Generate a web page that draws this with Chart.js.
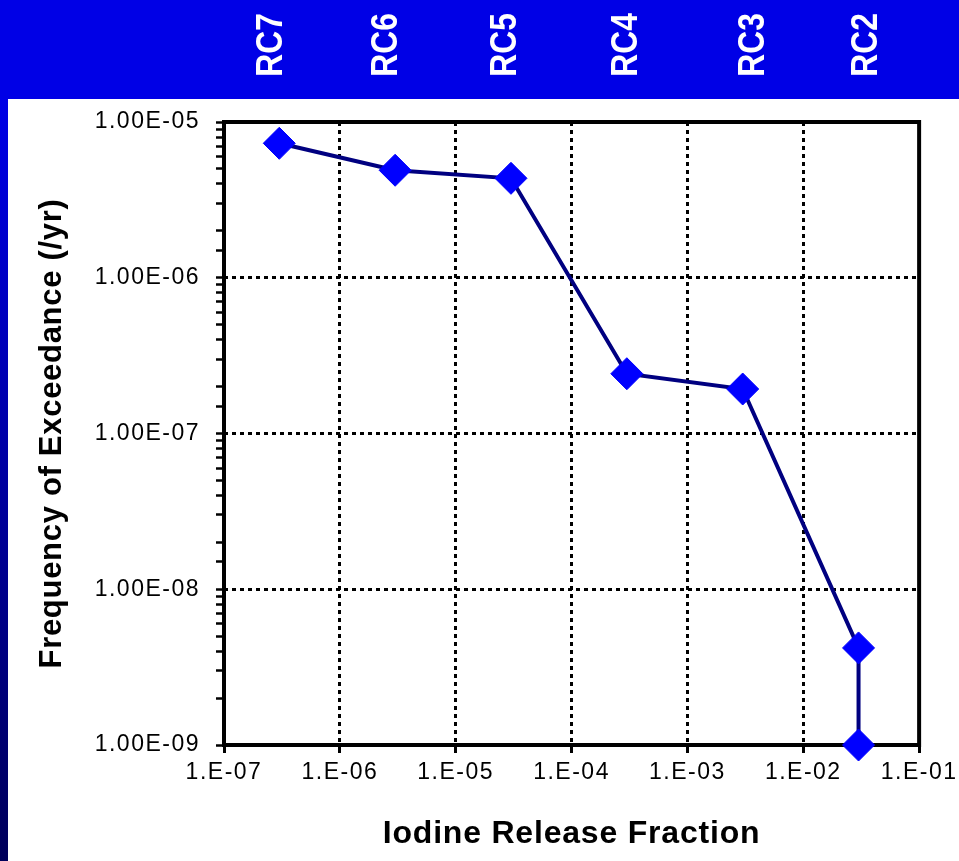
<!DOCTYPE html>
<html>
<head>
<meta charset="utf-8">
<script src="https://cdn.jsdelivr.net/npm/chart.js@4"></script>
<style>
  html, body { margin: 0; padding: 0; background: #fff; overflow: hidden; }
  canvas { display: block; }
</style>
</head>
<body>
<canvas id="mainChart" width="959" height="861"></canvas>
<script>
// data
const rcLabels = ['RC7', 'RC6', 'RC5', 'RC4', 'RC3', 'RC2'];
const releaseFraction = [3e-7, 3e-6, 3e-5, 3e-4, 3e-3, 3e-2, 3e-2];
const exceedanceFreq = [7.3e-6, 4.9e-6, 4.35e-6, 2.42e-7, 1.93e-7, 4.2e-9, 1e-9];
const xTitle = 'Iodine Release Fraction';
const yTitle = 'Frequency of Exceedance (/yr)';

// small nudges so the header labels sit where the slide has them (px)
const headerNudge = [-9, -10, -7, -2, 9, 6];

const FONT = 'Arial, "Liberation Sans", sans-serif';
const isDecade = v => Math.abs(Math.log10(v) - Math.round(Math.log10(v))) < 1e-6;
const expStr = v => String(Math.abs(Math.round(Math.log10(v)))).padStart(2, '0');

const slidePlugin = {
  id: 'slide',
  beforeDraw(chart) {
    const ctx = chart.ctx;
    ctx.save();
    ctx.fillStyle = '#fff';
    ctx.fillRect(0, 0, chart.width, chart.height);
    // top band
    ctx.fillStyle = '#0000e6';
    ctx.fillRect(0, 0, chart.width, 99);
    // left strip, fading down
    const g = ctx.createLinearGradient(0, 99, 0, chart.height);
    g.addColorStop(0, '#0000e6');
    g.addColorStop(1, '#00005a');
    ctx.fillStyle = g;
    ctx.fillRect(0, 99, 8, chart.height - 99);
    ctx.restore();
    // tick labels on the slide are a bit spaced out
    ctx.letterSpacing = '1.5px';
  },
  beforeDatasetsDraw(chart) {
    const { ctx, chartArea: a } = chart;
    ctx.save();
    ctx.strokeStyle = '#000';
    ctx.lineWidth = 4;
    ctx.strokeRect(a.left, a.top, a.right - a.left, a.bottom - a.top);
    ctx.restore();
  },
  afterDraw(chart) {
    const { ctx, chartArea: a } = chart;
    const xs = chart.scales.x;
    ctx.letterSpacing = '0px';
    ctx.save();
    ctx.fillStyle = '#fff';
    ctx.font = 'bold 37px ' + FONT;
    ctx.textAlign = 'center';
    ctx.textBaseline = 'middle';
    rcLabels.forEach((lab, i) => {
      const px = xs.getPixelForValue(releaseFraction[i]) + headerNudge[i];
      ctx.save();
      ctx.translate(px, 45);
      ctx.rotate(-Math.PI / 2);
      ctx.scale(0.86, 1);
      ctx.fillText(lab, 0, 2);
      ctx.restore();
    });

    // axis titles
    ctx.fillStyle = '#000';
    ctx.font = 'bold 32px ' + FONT;
    ctx.letterSpacing = '0.8px';
    ctx.textBaseline = 'alphabetic';
    ctx.fillText(xTitle, (a.left + a.right) / 2, 843);

    ctx.font = 'bold 31px ' + FONT;
    ctx.letterSpacing = '0.7px';
    ctx.translate(61, (a.top + a.bottom) / 2);
    ctx.rotate(-Math.PI / 2);
    ctx.fillText(yTitle, 0, 0);
    ctx.restore();
  }
};

new Chart(document.getElementById('mainChart'), {
  type: 'line',
  data: {
    datasets: [{
      data: releaseFraction.map((x, i) => ({ x: x, y: exceedanceFreq[i] })),
      borderColor: '#000080',
      borderWidth: 4,
      tension: 0,
      pointStyle: 'rectRot',
      pointRadius: 16,
      pointBackgroundColor: '#0000ff',
      pointBorderColor: '#0000ff',
      pointBorderWidth: 1,
      clip: false
    }]
  },
  options: {
    responsive: false,
    animation: false,
    devicePixelRatio: 1,
    layout: { padding: { top: 122, right: 38, left: 0, bottom: 0 } },
    plugins: { legend: { display: false }, tooltip: { enabled: false } },
    scales: {
      x: {
        type: 'logarithmic',
        min: 1e-7,
        max: 1e-1,
        afterBuildTicks: s => { s.ticks = s.ticks.filter(t => isDecade(t.value)); },
        afterFit: s => { s.height = 116; },
        border: { display: false, dash: [4, 4] },
        grid: {
          color: '#000',
          lineWidth: 3,
          tickColor: '#000',
          tickWidth: 3,
          tickLength: 8,
          tickBorderDash: []
        },
        ticks: {
          autoSkip: false,
          maxRotation: 0,
          padding: 6,
          color: '#000',
          font: { family: FONT, size: 23 },
          callback: v => isDecade(v) ? '1.E-' + expStr(v) : ''
        }
      },
      y: {
        type: 'logarithmic',
        min: 1e-9,
        max: 1e-5,
        afterFit: s => { s.width = 224; },
        border: { display: false, dash: [4, 4] },
        grid: {
          color: c => (c.tick && isDecade(c.tick.value)) ? '#000' : 'rgba(0,0,0,0)',
          lineWidth: 3,
          tickColor: '#000',
          tickWidth: 2.5,
          tickLength: 8,
          tickBorderDash: []
        },
        ticks: {
          autoSkip: false,
          padding: 16,
          color: '#000',
          font: { family: FONT, size: 23 },
          callback: v => isDecade(v) ? '1.00E-' + expStr(v) : ''
        }
      }
    }
  },
  plugins: [slidePlugin]
});
</script>
</body>
</html>
